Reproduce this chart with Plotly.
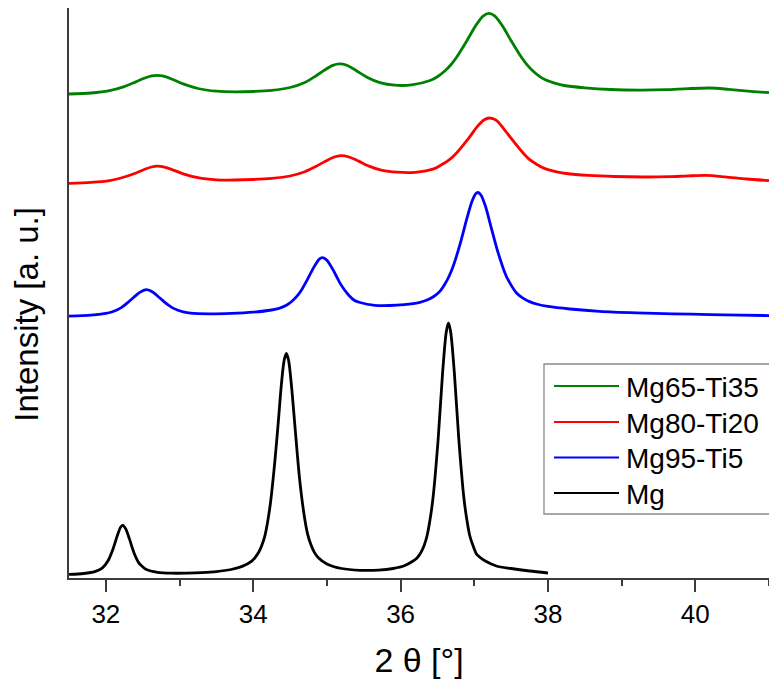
import plotly.graph_objects as go

# ---- diffraction data: 2-theta (deg) and stacked intensity (a.u.) ----
two_theta_mg = [31.50, 31.70, 31.85, 31.95, 32.03, 32.10, 32.15, 32.20, 32.23, 32.27,
                32.32, 32.38, 32.45, 32.50, 32.55, 32.70, 32.90, 33.10, 33.30, 33.50,
                33.70, 33.85, 33.98, 34.03, 34.08, 34.12, 34.16, 34.23, 34.29, 34.34,
                34.38, 34.42, 34.45, 34.48, 34.52, 34.57, 34.63, 34.70, 34.74, 34.78,
                34.83, 34.88, 35.00, 35.20, 35.45, 35.70, 35.90, 36.05, 36.17, 36.22,
                36.27, 36.32, 36.36, 36.40, 36.44, 36.51, 36.57, 36.62, 36.65, 36.68,
                36.73, 36.79, 36.86, 36.90, 36.94, 36.98, 37.03, 37.08, 37.15, 37.30,
                37.50, 37.75, 38.00]
intensity_mg = [3.6, 4.5, 6.3, 9.9, 17.3, 29.6, 41.1, 50.8, 52.6, 49.1,
                39.1, 25.6, 14.9, 11.2, 8.5, 5.7, 4.8, 4.9, 5.4, 6.4,
                8.5, 11.6, 16.9, 20.9, 26.5, 33.3, 42.7, 72.7, 113.7, 155.7,
                191.7, 217.7, 224.7, 217.7, 191.7, 148.5, 98.7, 58.7, 43.4, 34.0,
                25.6, 20.6, 14.1, 9.5, 7.7, 7.9, 9.5, 12.2, 17.0, 19.8,
                24.7, 32.6, 42.5, 58.5, 80.0, 139.0, 205.0, 246.0, 255.0, 246.0,
                205.0, 139.0, 79.5, 58.0, 42.0, 33.0, 24.0, 20.5, 17.0, 12.0,
                9.5, 7.0, 5.0]

two_theta_ti5 = [31.50, 31.80, 32.00, 32.08, 32.15, 32.22, 32.28, 32.38, 32.46, 32.55,
                 32.64, 32.73, 32.84, 32.90, 32.97, 33.05, 33.15, 33.40, 33.70, 34.00,
                 34.25, 34.35, 34.45, 34.53, 34.60, 34.66, 34.72, 34.82, 34.90, 34.94,
                 35.00, 35.08, 35.18, 35.24, 35.30, 35.37, 35.45, 35.65, 35.85, 36.05,
                 36.25, 36.35, 36.45, 36.53, 36.60, 36.66, 36.72, 36.82, 36.90, 36.97,
                 37.02, 37.05, 37.09, 37.15, 37.23, 37.32, 37.43, 37.50, 37.57, 37.65,
                 37.75, 37.87, 38.00, 38.30, 38.70, 39.20, 39.70, 40.20, 40.60, 41.00]
intensity_ti5 = [261.8, 262.8, 264.6, 266.0, 268.0, 270.9, 274.3, 280.7, 285.6, 288.3,
                 285.7, 280.2, 273.3, 270.4, 268.0, 266.2, 264.9, 264.2, 264.6, 265.8,
                 268.0, 269.6, 272.7, 277.0, 282.3, 288.6, 296.3, 310.4, 319.1, 320.3,
                 317.7, 308.6, 294.6, 288.0, 282.5, 277.8, 275.5, 272.7, 272.5, 273.4,
                 275.4, 277.7, 281.5, 286.4, 293.8, 302.0, 313.0, 337.2, 359.6, 376.8,
                 384.3, 385.5, 383.0, 372.2, 350.4, 326.2, 302.5, 292.9, 285.3, 280.4,
                 276.4, 273.5, 271.6, 269.0, 266.6, 265.1, 264.2, 263.4, 262.9, 262.4]

two_theta_ti20 = [31.50, 31.80, 32.05, 32.25, 32.40, 32.52, 32.62, 32.70, 32.78, 32.90,
                  33.05, 33.25, 33.50, 33.75, 34.00, 34.25, 34.50, 34.70, 34.85, 34.98,
                  35.09, 35.19, 35.30, 35.43, 35.58, 35.75, 35.95, 36.20, 36.45, 36.55,
                  36.65, 36.72, 36.80, 36.93, 37.04, 37.13, 37.21, 37.30, 37.40, 37.52,
                  37.66, 37.74, 37.82, 37.91, 38.00, 38.12, 38.25, 38.55, 38.90, 39.30,
                  39.65, 39.90, 40.15, 40.40, 40.70, 41.00]
intensity_ti20 = [394.7, 395.6, 397.4, 401.0, 404.8, 408.5, 411.0, 411.8, 411.2, 408.4,
                  404.2, 400.3, 398.2, 398.0, 398.5, 399.6, 402.0, 406.3, 411.5, 416.7,
                  420.7, 422.4, 421.0, 416.9, 411.6, 407.6, 405.8, 405.7, 409.1, 413.0,
                  417.7, 422.1, 428.4, 440.3, 451.3, 458.0, 460.0, 457.6, 449.2, 437.8,
                  425.2, 419.1, 415.0, 411.0, 408.4, 406.2, 404.5, 402.6, 401.5, 401.0,
                  401.3, 402.1, 402.6, 401.2, 399.0, 397.4]

two_theta_ti35 = [31.50, 31.80, 32.05, 32.25, 32.40, 32.52, 32.62, 32.69, 32.77, 32.90,
                  33.05, 33.25, 33.50, 33.75, 34.00, 34.25, 34.50, 34.70, 34.85, 34.97,
                  35.08, 35.17, 35.27, 35.40, 35.55, 35.72, 35.92, 36.15, 36.40, 36.50,
                  36.60, 36.68, 36.76, 36.90, 37.02, 37.12, 37.20, 37.28, 37.38, 37.50,
                  37.64, 37.72, 37.80, 37.89, 37.98, 38.10, 38.22, 38.50, 38.85, 39.25,
                  39.60, 39.90, 40.20, 40.45, 40.75, 41.00]
intensity_ti35 = [484.0, 485.0, 487.4, 491.4, 495.9, 499.7, 502.1, 502.7, 502.1, 498.8,
                  494.1, 489.5, 486.8, 486.1, 486.5, 487.6, 490.5, 495.5, 502.0, 508.0,
                  512.6, 514.1, 512.7, 507.3, 500.6, 495.4, 492.8, 493.1, 497.5, 501.3,
                  507.0, 513.0, 520.8, 537.3, 552.4, 561.9, 564.6, 561.9, 552.4, 537.3,
                  520.7, 512.9, 506.8, 501.4, 497.7, 494.7, 492.5, 490.2, 488.5, 487.9,
                  488.3, 489.4, 490.0, 488.7, 486.7, 485.3]

sample_names = ["Mg", "Mg95-Ti5", "Mg80-Ti20", "Mg65-Ti35"]
line_colors = ["#000000", "#0000ff", "#ff0000", "#008000"]
x_tick_values = [32, 34, 36, 38, 40]

FONT = "Liberation Sans, Arial, Helvetica, sans-serif"
AXIS_GREY = "#3c3c3c"

fig = go.Figure()
series = [
    (two_theta_mg, intensity_mg),
    (two_theta_ti5, intensity_ti5),
    (two_theta_ti20, intensity_ti20),
    (two_theta_ti35, intensity_ti35),
]
for (xs, ys), name, color in zip(series, sample_names, line_colors):
    fig.add_trace(go.Scatter(
        x=xs, y=ys, mode="lines", name=name, showlegend=False,
        line=dict(color=color, width=2.8, shape="spline", smoothing=0.8),
    ))

# ---- legend box drawn in paper coordinates (plot area: 700 x 570 px) ----
def px_x(p):
    return (p - 69) / 700.0


def px_y(p):
    return (578 - p) / 570.0


shapes = [dict(type="rect", xref="paper", yref="paper",
               x0=px_x(544), x1=px_x(772), y0=px_y(514), y1=px_y(364),
               line=dict(color="#8a8a8a", width=1.3), fillcolor="white", layer="above")]
annotations = []
legend_rows = [386, 422, 457.5, 493]
for row_y, name, color in zip(legend_rows, sample_names[::-1], line_colors[::-1]):
    shapes.append(dict(type="line", xref="paper", yref="paper",
                       x0=px_x(554), x1=px_x(619), y0=px_y(row_y), y1=px_y(row_y),
                       line=dict(color=color, width=2), layer="above"))
    annotations.append(dict(text=name, xref="paper", yref="paper",
                            x=px_x(624), y=px_y(row_y + 1), xanchor="left", yanchor="middle",
                            showarrow=False,
                            font=dict(family=FONT, size=28, color="#000000")))

annotations.append(dict(
    text="Intensity [a. u.]", textangle=-90,
    xref="paper", yref="paper", x=-0.062, y=0.463,
    xanchor="center", yanchor="middle", showarrow=False,
    font=dict(family=FONT, size=33, color="#000000"),
))

fig.update_layout(
    width=769, height=690,
    margin=dict(l=69, r=0, t=8, b=112),
    paper_bgcolor="white", plot_bgcolor="white",
    font=dict(family=FONT, color="#000000"),
    showlegend=False,
    xaxis=dict(
        range=[31.5, 41], showgrid=False, zeroline=False,
        showline=True, linecolor=AXIS_GREY, linewidth=2,
        tickmode="array", tickvals=x_tick_values,
        ticks="outside", ticklen=12, tickwidth=2, tickcolor=AXIS_GREY,
        tickfont=dict(family=FONT, size=26, color="#000000"),
        minor=dict(ticks="outside", ticklen=6, tickwidth=2, tickcolor=AXIS_GREY,
                   dtick=1, tick0=31),
        title=dict(text="2 θ [°]", font=dict(family=FONT, size=34, color="#000000"),
                   standoff=20),
    ),
    yaxis=dict(
        range=[0, 570], showgrid=False, zeroline=False,
        showline=True, linecolor=AXIS_GREY, linewidth=2,
        ticks="", showticklabels=False,
    ),
    shapes=shapes,
    annotations=annotations,
)

fig.write_html("out.html")
